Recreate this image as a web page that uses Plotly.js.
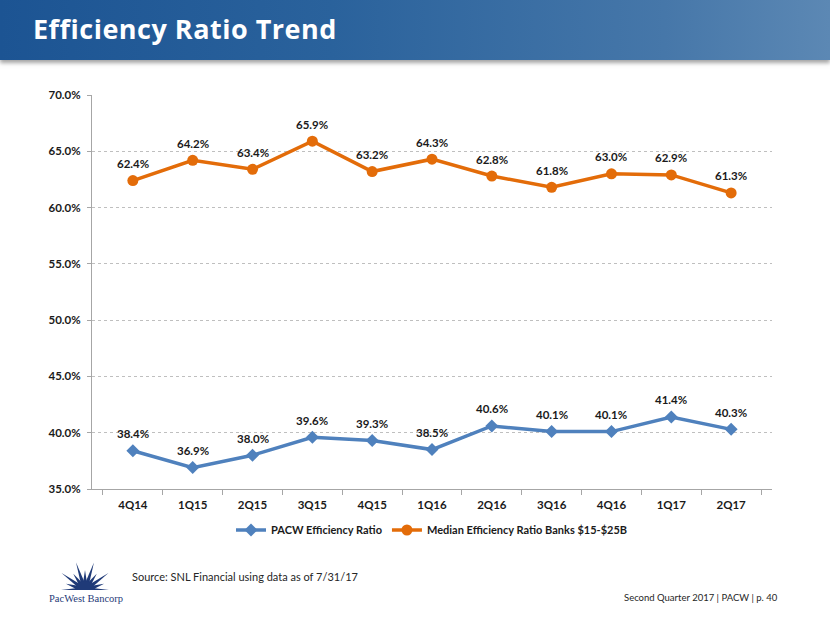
<!DOCTYPE html>
<html>
<head>
<meta charset="utf-8">
<script src="https://cdn.plot.ly/plotly-3.0.1.min.js"></script>
<style>
  html, body { margin:0; padding:0; background:#fff; }
  #wrap { position:relative; width:830px; height:623px; overflow:hidden; }
  #banner { position:absolute; left:0; top:0; width:830px; height:60px;
    background: linear-gradient(to right, #1c5493 0%, #2a629c 40%, #4677a9 80%, #5c88b4 100%);
    box-shadow: 0 3px 4px rgba(90,90,90,0.55); z-index:2; }
  #banner span { position:absolute; left:33px; top:11px; color:#fff; font-family:"Open Sans", Lato, sans-serif;
    font-weight:bold; font-size:27px; letter-spacing:0.5px; line-height:36px; }
  #chart { position:absolute; left:0; top:0; width:830px; height:623px; z-index:1; }
  #logo { position:absolute; left:46px; top:554px; z-index:3; }
</style>
</head>
<body>
<div id="wrap">
  <div id="chart"></div>
  <div id="banner"><span>Efficiency Ratio Trend</span></div>
  <svg id="logo" width="80" height="42" viewBox="0 0 80 42">
    <g fill="#1f3a78" id="rays"></g>
  </svg>
</div>
<script>
const categories = ["4Q14","1Q15","2Q15","3Q15","4Q15","1Q16","2Q16","3Q16","4Q16","1Q17","2Q17"];
const pacwRatio = [38.4, 36.9, 38.0, 39.6, 39.3, 38.5, 40.6, 40.1, 40.1, 41.4, 40.3];
const medianRatio = [62.4, 64.2, 63.4, 65.9, 63.2, 64.3, 62.8, 61.8, 63.0, 62.9, 61.3];
const seriesNames = ["PACW Efficiency Ratio", "Median Efficiency Ratio Banks $15-$25B"];
const yTicks = [35, 40, 45, 50, 55, 60, 65, 70];

// logo sunburst
(function(){
  const g = document.getElementById('rays');
  const cx = 39, cy = 36;
  const n = 11;
  let html = '';
  for (let i = 0; i < n; i++) {
    const ang = Math.PI + Math.PI * (i / (n - 1));
    const long = (i % 2 === 0) ? (i === 0 || i === n - 1 ? 24 : 29) : 20;
    const w = 0.24;
    const r0 = 8;
    const x1 = cx + r0 * Math.cos(ang - w), y1 = cy + r0 * Math.sin(ang - w);
    const x2 = cx + r0 * Math.cos(ang + w), y2 = cy + r0 * Math.sin(ang + w);
    const xt = cx + long * Math.cos(ang), yt = cy + long * Math.sin(ang);
    html += `<polygon points="${x1.toFixed(2)},${Math.min(y1,cy).toFixed(2)} ${xt.toFixed(2)},${yt.toFixed(2)} ${x2.toFixed(2)},${Math.min(y2,cy).toFixed(2)}"/>`;
  }
  html += `<path d="M${cx-10},${cy} A10,9 0 0,1 ${cx+10},${cy} Z"/>`;
  g.innerHTML = html;
})();

const fontFam = 'Lato, "Noto Sans", sans-serif';
const blue = '#4f81bd', orange = '#e36c09';

const traces = [
  { x: categories, y: pacwRatio, name: seriesNames[0], type: 'scatter', mode: 'lines+markers',
    line: { color: blue, width: 3.5 }, marker: { symbol: 'diamond', size: 10, color: blue } },
  { x: categories, y: medianRatio, name: seriesNames[1], type: 'scatter', mode: 'lines+markers',
    line: { color: orange, width: 3.5 }, marker: { symbol: 'circle', size: 11, color: orange } }
];

const annotations = [];
[pacwRatio, medianRatio].forEach(arr => {
  arr.forEach((v, i) => annotations.push({
    x: categories[i], y: v, xref: 'x', yref: 'y', text: v.toFixed(1) + '%',
    showarrow: false, yshift: 17, font: { family: fontFam, size: 11.5, color: '#1a1a1a', weight: 'bold' }
  }));
});
annotations.push({ xref: 'paper', yref: 'paper', x: (130-92)/680, y: -(576-489)/394, xanchor: 'left', yanchor: 'middle',
  text: 'Source: SNL Financial using data as of 7/31/17', showarrow: false,
  font: { family: fontFam, size: 11, color: '#262626' } });
annotations.push({ xref: 'paper', yref: 'paper', x: (780-92)/680, y: -(597-489)/394, xanchor: 'right', yanchor: 'middle',
  text: 'Second Quarter 2017 | PACW | p. 40', showarrow: false,
  font: { family: fontFam, size: 9.5, color: '#262626' } });
annotations.push({ xref: 'paper', yref: 'paper', x: (86-92)/680, y: -(598-489)/394, xanchor: 'center', yanchor: 'middle',
  text: 'PacWest Bancorp', showarrow: false,
  font: { family: '"Liberation Serif", "DejaVu Serif", serif', size: 10.5, color: '#1f3a78' } });

const layout = {
  width: 830, height: 623,
  margin: { l: 92, r: 58, t: 95, b: 134 },
  paper_bgcolor: 'rgba(0,0,0,0)', plot_bgcolor: '#fff',
  font: { family: fontFam, color: '#1a1a1a' },
  showlegend: true,
  legend: { orientation: 'h', x: 0.5, xanchor: 'center', y: -(530-489)/394, yanchor: 'middle',
    font: { family: fontFam, size: 11, weight: 'bold', color: '#1a1a1a' }, traceorder: 'normal' },
  xaxis: { type: 'category', showgrid: false, showline: true, linecolor: '#a6a6a6', linewidth: 1,
    ticks: 'outside', tickson: 'boundaries', ticklen: 5, tickcolor: '#a6a6a6', ticklabelstandoff: 5,
    tickfont: { family: fontFam, size: 11.5, weight: 'bold', color: '#1a1a1a' }, fixedrange: true },
  yaxis: { range: [35, 70], tickvals: yTicks, ticktext: yTicks.map(v => v.toFixed(1) + '%'),
    showgrid: true, gridcolor: '#bfbfbf', griddash: 'dot', gridwidth: 1,
    showline: true, linecolor: '#a6a6a6', linewidth: 1, ticks: 'outside', ticklen: 4, tickcolor: '#a6a6a6',
    ticklabelstandoff: 4,
    zeroline: false, tickfont: { family: fontFam, size: 11.5, weight: 'bold', color: '#1a1a1a' }, fixedrange: true },
  annotations: annotations
};

Plotly.newPlot('chart', traces, layout, { displayModeBar: false, staticPlot: true });
</script>
</body>
</html>
